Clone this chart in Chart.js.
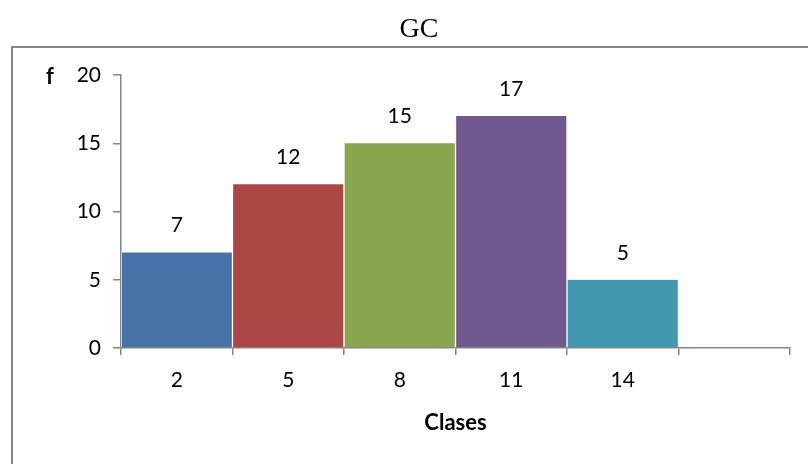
<!DOCTYPE html>
<html>
<head>
<meta charset="utf-8">
<script src="https://cdn.jsdelivr.net/npm/chart.js@4/dist/chart.umd.min.js"></script>
<style>
  html, body { margin: 0; padding: 0; background: #fff; }
  #wrap { width: 808px; height: 464px; position: relative; }
</style>
</head>
<body>
<div id="wrap"><canvas id="c" width="808" height="464"></canvas></div>
<script>
// Class marks and their frequencies
const classes = ['2', '5', '8', '11', '14', ''];
const frequencies = [7, 12, 15, 17, 5, null];
const barColors = ['#4572A7', '#AA4643', '#89A54E', '#71588F', '#4198AF', '#4198AF'];
const yTicks = [0, 5, 10, 15, 20];

const chartTitle = 'GC';
const yLabel = 'f';
const xLabel = 'Clases';

const labelFont = '"Lato", "Open Sans", sans-serif';

// Frame, title, axis caption "f" and value labels over the bars
const decorations = {
  id: 'decorations',
  afterDraw(chart) {
    const ctx = chart.ctx;
    ctx.save();
    ctx.strokeStyle = '#868686';
    ctx.lineWidth = 2;
    ctx.beginPath();
    ctx.moveTo(12, 820);
    ctx.lineTo(12, 47);
    ctx.lineTo(900, 47);
    ctx.stroke();

    ctx.fillStyle = '#000';
    ctx.textAlign = 'center';
    ctx.textBaseline = 'middle';
    ctx.font = '28px "Liberation Serif", "Times New Roman", serif';
    ctx.fillText(chartTitle, 419, 30);

    ctx.font = 'bold 22px ' + labelFont;
    ctx.fillText(yLabel, 50, 77);

    ctx.font = '21px ' + labelFont;
    const meta = chart.getDatasetMeta(0);
    meta.data.forEach((bar, i) => {
      const v = frequencies[i];
      if (v === null || v === undefined) return;
      ctx.fillText(String(v), bar.x, bar.y - 27);
    });
    ctx.restore();
  }
};

new Chart(document.getElementById('c'), {
  type: 'bar',
  data: {
    labels: classes,
    datasets: [{
      data: frequencies,
      backgroundColor: barColors,
      borderColor: '#ffffff',
      borderWidth: { left: 1, right: 1, top: 0, bottom: 0 },
      borderSkipped: 'bottom',
      barPercentage: 1,
      categoryPercentage: 1
    }]
  },
  options: {
    responsive: false,
    animation: false,
    devicePixelRatio: 1,
    layout: { padding: { top: 75, right: 18, left: 0, bottom: 0 } },
    plugins: {
      legend: { display: false },
      tooltip: { enabled: false },
      title: { display: false }
    },
    scales: {
      x: {
        offset: true,
        grid: {
          offset: true,
          drawOnChartArea: false,
          drawTicks: true,
          tickLength: 7,
          color: '#868686',
          lineWidth: 1.5
        },
        border: { display: true, color: '#868686', width: 1.5 },
        ticks: {
          color: '#000',
          font: { family: labelFont, size: 21 },
          padding: 13,
          maxRotation: 0
        },
        title: {
          display: true,
          text: xLabel,
          color: '#000',
          font: { family: labelFont, size: 22, weight: 'bold' },
          padding: { top: 0, bottom: 28 }
        },
        afterFit(scale) { scale.height = 116; }
      },
      y: {
        min: 0,
        max: 20,
        afterBuildTicks(scale) { scale.ticks = yTicks.map(v => ({ value: v })); },
        grid: {
          drawOnChartArea: false,
          drawTicks: true,
          tickLength: 8,
          color: '#868686',
          lineWidth: 1.5
        },
        border: { display: true, color: '#868686', width: 1.5 },
        ticks: {
          color: '#000',
          font: { family: labelFont, size: 21 },
          padding: 12
        },
        afterFit(scale) { scale.width = 121; }
      }
    }
  },
  plugins: [decorations]
});
</script>
</body>
</html>
